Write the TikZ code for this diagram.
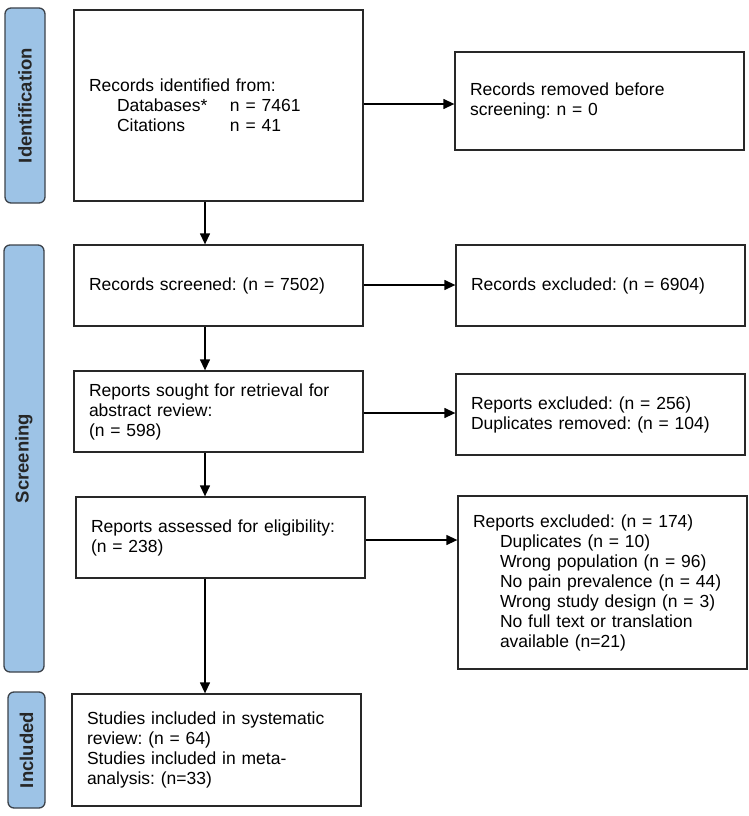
\documentclass[tikz,border=0pt]{standalone}
\usepackage{fontspec}
\setmainfont{Liberation Sans}
\usetikzlibrary{arrows.meta,calc}
\definecolor{sidefill}{RGB}{157,195,230}
\definecolor{sidedraw}{RGB}{60,66,74}
\definecolor{boxdraw}{RGB}{40,40,40}
\frenchspacing
\begin{document}
\begin{tikzpicture}[x=1pt,y=-1pt,
  every node/.style={font=\fontsize{17.5pt}{20pt}\selectfont},
  flowbox/.style={draw=boxdraw,line width=1.3pt,fill=white,inner xsep=15pt,inner ysep=0pt,align=left,anchor=center},
  side/.style={draw=sidedraw,line width=1.3pt,fill=sidefill,rounded corners=6pt},
  sidelabel/.style={rotate=90,font=\fontsize{18.5pt}{20pt}\selectfont\bfseries,text=black!85},
  arr/.style={line width=1.3pt,draw=black,-{Triangle[length=11pt,width=10pt]}}]
\useasboundingbox (0,0) rectangle (749,816);
% sidebars
\draw[side] (5,8) rectangle (45,203);
\node[sidelabel] (sid) at (25,105.5) {Identification};
\draw[side] (4,245) rectangle (44,672);
\node[sidelabel] (sscr) at (24,458.5) {Screening};
\draw[side] (8,692) rectangle (45,808);
\node[sidelabel] (sinc) at (26.5,750) {Included};
% left boxes
\node[flowbox,text width=259pt,minimum height=191pt] (b1) at (218.5,105.5)
 {Records identified from:\\\hspace*{28pt}\makebox[113pt][l]{Databases*}n = 7461\\\hspace*{28pt}\makebox[113pt][l]{Citations}n = 41};
\node[flowbox,text width=259pt,minimum height=81pt] (b2) at (218.5,285.5)
 {Records screened: (n = 7502)};
\node[flowbox,text width=259pt,minimum height=81pt] (b3) at (218.5,411.5)
 {Reports sought for retrieval for\\abstract review:\\(n = 598)};
\node[flowbox,text width=259pt,minimum height=81pt] (b4) at (220.5,537.5)
 {Reports assessed for eligibility:\\(n = 238)};
\node[flowbox,text width=259pt,minimum height=112pt] (b5) at (216.5,750)
 {Studies included in systematic\\review: (n = 64)\\Studies included in meta-\\analysis: (n=33)};
% right boxes
\node[flowbox,text width=259pt,minimum height=98pt] (r1) at (599.5,101)
 {Records removed before\\screening: n = 0};
\node[flowbox,text width=259pt,minimum height=81pt] (r2) at (600.5,285.5)
 {Records excluded: (n = 6904)};
\node[flowbox,text width=259pt,minimum height=81pt] (r3) at (600.5,414.5)
 {Reports excluded: (n = 256)\\Duplicates removed: (n = 104)};
\node[flowbox,text width=259pt,minimum height=173pt] (r4) at (602.5,582.5)
 {Reports excluded: (n = 174)\\
 \hspace*{27pt}Duplicates (n = 10)\\
 \hspace*{27pt}Wrong population (n = 96)\\
 \hspace*{27pt}No pain prevalence (n = 44)\\
 \hspace*{27pt}Wrong study design (n = 3)\\
 \hspace*{27pt}No full text or translation\\
 \hspace*{27pt}available (n=21)};
% horizontal arrows
\draw[arr] (b1.east |- 0,104) -- (r1.west |- 0,104);
\draw[arr] (b2.east |- 0,285) -- (r2.west |- 0,285);
\draw[arr] (b3.east |- 0,413) -- (r3.west |- 0,413);
\draw[arr] (b4.east |- 0,540) -- (r4.west |- 0,540);
% vertical arrows
\draw[arr] (205,0 |- b1.south) -- (205,0 |- b2.north);
\draw[arr] (205,0 |- b2.south) -- (205,0 |- b3.north);
\draw[arr] (205,0 |- b3.south) -- (205,0 |- b4.north);
\draw[arr] (205,0 |- b4.south) -- (205,0 |- b5.north);
\end{tikzpicture}
\end{document}
